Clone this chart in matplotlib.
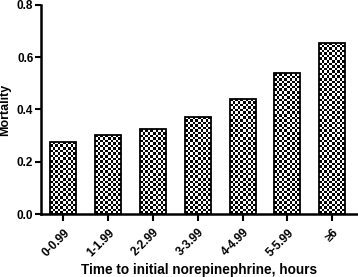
import numpy as np
import matplotlib
matplotlib.use("Agg")
import matplotlib.pyplot as plt

# data
categories = ["0-0.99", "1-1.99", "2-2.99", "3-3.99", "4-4.99", "5-5.99", "≥6"]
mortality = [0.274, 0.302, 0.325, 0.370, 0.439, 0.539, 0.653]
y_ticks = [0.0, 0.2, 0.4, 0.6, 0.8]

plt.rcParams['font.family'] = ['Liberation Sans', 'DejaVu Sans']
plt.rcParams['font.weight'] = 'bold'

fig = plt.figure(figsize=(3.58, 2.77), dpi=100)
ax = fig.add_axes([0.1145, 0.2274, 0.8825, 0.7546])

x = np.arange(len(categories))
bars = ax.bar(x, mortality, width=0.58, facecolor='none', edgecolor='black', linewidth=1.3, zorder=3)

# checkerboard fill clipped to each bar
checker = np.indices((120, 12)).sum(axis=0) % 2
for b in bars:
    x0, y0 = b.get_x(), b.get_y()
    w = b.get_width()
    ncols = 10
    sq_y = 0.0098
    nrows = int(np.ceil(b.get_height() / sq_y))
    img = checker[:nrows, :ncols]
    im = ax.imshow(img, cmap='gray', extent=(x0, x0 + w, y0, y0 + nrows * sq_y),
                   origin='lower', aspect='auto', interpolation='nearest', zorder=2)
    im.set_clip_path(b)

ax.set_xlim(-0.5, 6.55)
ax.set_ylim(0, 0.8)
ax.set_yticks(y_ticks)
ax.set_yticklabels([f"{v:.1f}" for v in y_ticks])
ax.set_xticks(x)
ax.set_xticklabels(categories, rotation=45, ha='right', rotation_mode='anchor')

for side in ['top', 'right']:
    ax.spines[side].set_visible(False)
for side in ['left', 'bottom']:
    ax.spines[side].set_linewidth(1.8)
ax.tick_params(axis='both', direction='out', length=4, width=1.5, labelsize=8.5, pad=1.5)
ax.tick_params(axis='x', length=5, pad=4)

ax.set_ylabel("Mortality", fontsize=9, fontweight='bold', labelpad=4)
ax.set_xlabel("Time to initial norepinephrine, hours", fontsize=9.8, fontweight='bold', labelpad=3)

fig.savefig("out.png", dpi=100)
